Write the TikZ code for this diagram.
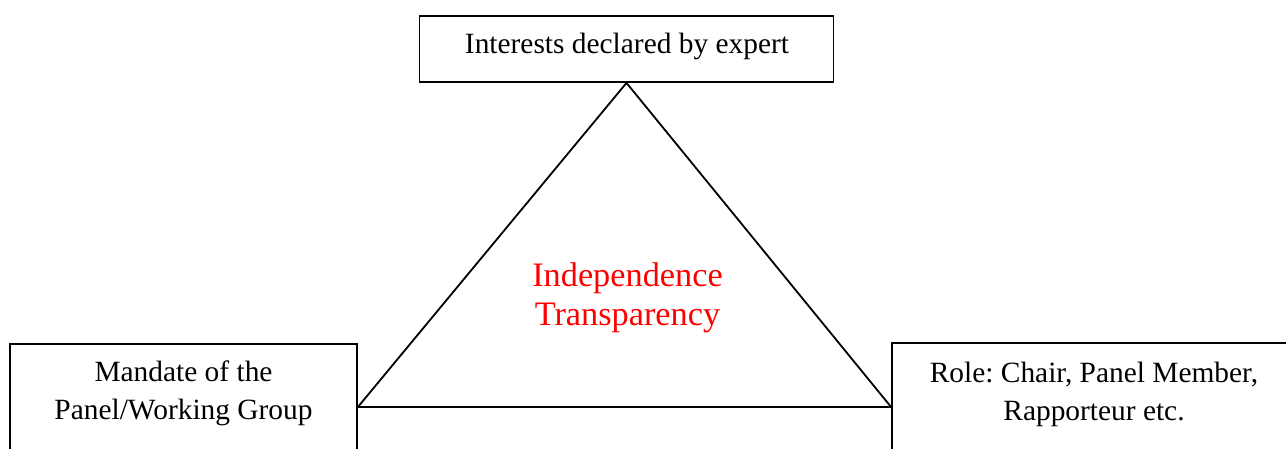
\documentclass[tikz,border=0pt]{standalone}
\usepackage{fontspec}
\setmainfont{Liberation Serif}
\frenchspacing
\begin{document}
\begin{tikzpicture}[x=1pt,y=-1pt,
  frame/.style={draw=black, line width=1.8pt, rectangle, inner sep=0pt},
  boxtext/.style={font=\fontsize{29.4}{37}\selectfont, align=center, anchor=base, inner sep=0pt},
  keytext/.style={font=\fontsize{34.3}{38}\selectfont, text=red, align=center, anchor=base, inner sep=0pt},
  edge/.style={draw=black, line width=1.8pt}]
  \useasboundingbox (0,0) rectangle (1286,449);
  \clip (0,0) rectangle (1286,449);
  \fill[white] (0,0) rectangle (1286,449);

  % the three boxes
  \node[frame, minimum width=414pt, minimum height=66pt] (top) at (626.5,49) {};
  \node[frame, minimum width=347pt, minimum height=126pt] (left) at (183.5,407) {};
  \node[frame, minimum width=404pt, minimum height=128pt] (right) at (1094,407) {};

  % box captions
  \node[boxtext] (toptxt) at (627,54) {Interests declared by expert};
  \node[boxtext] (lefttxt1) at (183.5,381) {Mandate of the};
  \node[boxtext] (lefttxt2) at (183.5,419) {Panel/Working Group};
  \node[boxtext] (righttxt1) at (1094,382) {Role: Chair, Panel Member,};
  \node[boxtext] (righttxt2) at (1094,420) {Rapporteur etc.};

  % triangle linking the boxes
  \draw[edge, line join=miter] (top.south) -- (left.east) -- (right.west) -- cycle;

  % central caption
  \node[keytext] (k1) at (627.5,287) {Independence};
  \node[keytext] (k2) at (627.5,326) {Transparency};
\end{tikzpicture}
\end{document}
